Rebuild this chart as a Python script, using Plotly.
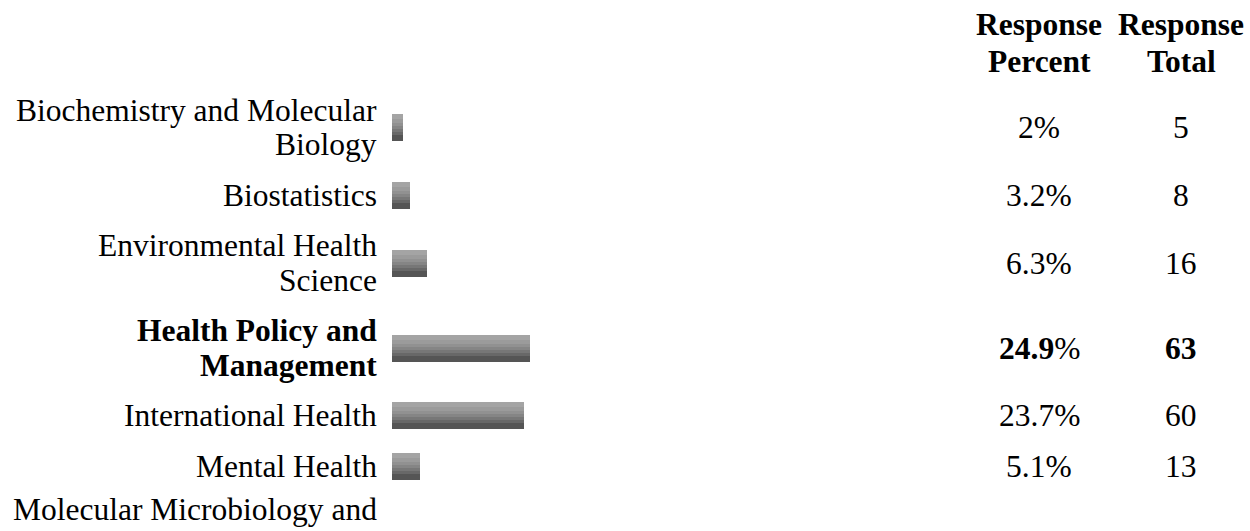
import plotly.graph_objects as go

# ---------------- data ----------------
categories = [
    "Biochemistry and Molecular<br>Biology",
    "Biostatistics",
    "Environmental Health<br>Science",
    "Health Policy and<br>Management",
    "International Health",
    "Mental Health",
    "Molecular Microbiology and",
]
response_percent = [2.0, 3.2, 6.3, 24.9, 23.7, 5.1, None]
response_total = [5, 8, 16, 63, 60, 13, None]
highlight = [False, False, False, True, False, False, False]
header_cols = ["Response<br>Percent", "Response<br>Total"]

# ---------------- layout constants ----------------
W, H = 1250, 531
FONT = "Liberation Serif, Times New Roman, serif"
FS = 31.5
PX_PER_PCT = 5.55
BAR_X0 = 392
LABEL_RIGHT = 378
COL_PCT = 1039
COL_TOT = 1181
ROW_TOP = 85
ONE_LINE_H = 50.5
LINE_STEP = 34.5
BAR_H = 27
HEADER_LINE_CENTERS = [24.5, 61]
LAST_ROW_SHIFT = -7.5  # the partially visible row sits a little higher
# vertical gradient bands of the bars (top -> bottom)
BAND_H = [5, 4, 3, 3, 3, 3, 6]
BAND_C = ["#a4a4a4", "#9b9b9b", "#919191", "#858585", "#777777", "#686868", "#555555"]

# row centres from label line counts
centers = []
top = ROW_TOP
for lab in categories:
    n = lab.count("<br>") + 1
    h = ONE_LINE_H + LINE_STEP * (n - 1)
    centers.append(top + h / 2)
    top += h
centers[-1] += LAST_ROW_SHIFT

fig = go.Figure()

idx = [i for i, v in enumerate(response_percent) if v is not None]
ys = [centers[i] for i in idx]
xs = [response_percent[i] for i in idx]

off = -BAR_H / 2
for bh, bc in zip(BAND_H, BAND_C):
    fig.add_trace(go.Bar(
        x=xs, y=ys, orientation="h", base=0,
        width=bh, offset=off,
        marker=dict(color=bc, line=dict(width=0)),
        hoverinfo="skip", showlegend=False,
    ))
    off += bh

ann = []


def txt(x, y, s, anchor, bold=False):
    ann.append(dict(
        x=x / W, xref="paper", y=y, yref="y", text=("<b>%s</b>" % s) if bold else s,
        showarrow=False, xanchor=anchor, yanchor="middle",
        font=dict(family=FONT, size=FS, color="black"), borderpad=0,
    ))


# header
for col_x, head in zip([COL_PCT, COL_TOT], header_cols):
    for ln, yc in zip(head.split("<br>"), HEADER_LINE_CENTERS):
        txt(col_x, yc, ln, "center", bold=True)

# labels and values
for i, lab in enumerate(categories):
    lines = lab.split("<br>")
    n = len(lines)
    for k, ln in enumerate(lines):
        yc = centers[i] + (k - (n - 1) / 2) * LINE_STEP
        txt(LABEL_RIGHT, yc, ln, "right", bold=highlight[i])
    if response_percent[i] is not None:
        p = response_percent[i]
        ps = ("%g" % p)
        if highlight[i]:
            txt(COL_PCT, centers[i], "<b>%s</b>%%" % ps, "center")
        else:
            txt(COL_PCT, centers[i], "%s%%" % ps, "center")
        txt(COL_TOT, centers[i], str(response_total[i]), "center", bold=highlight[i])

fig.update_layout(
    width=W, height=H,
    margin=dict(l=0, r=0, t=0, b=0),
    paper_bgcolor="white", plot_bgcolor="white",
    barmode="overlay", bargap=0,
    xaxis=dict(range=[-BAR_X0 / PX_PER_PCT, (W - BAR_X0) / PX_PER_PCT],
               visible=False, fixedrange=True),
    yaxis=dict(range=[H, 0], visible=False, fixedrange=True),
    annotations=ann,
    showlegend=False,
)

fig.write_html(
    "out.html",
    config={"displayModeBar": False},
    post_script="document.body.style.margin='0';document.body.style.overflow='hidden';",
)
